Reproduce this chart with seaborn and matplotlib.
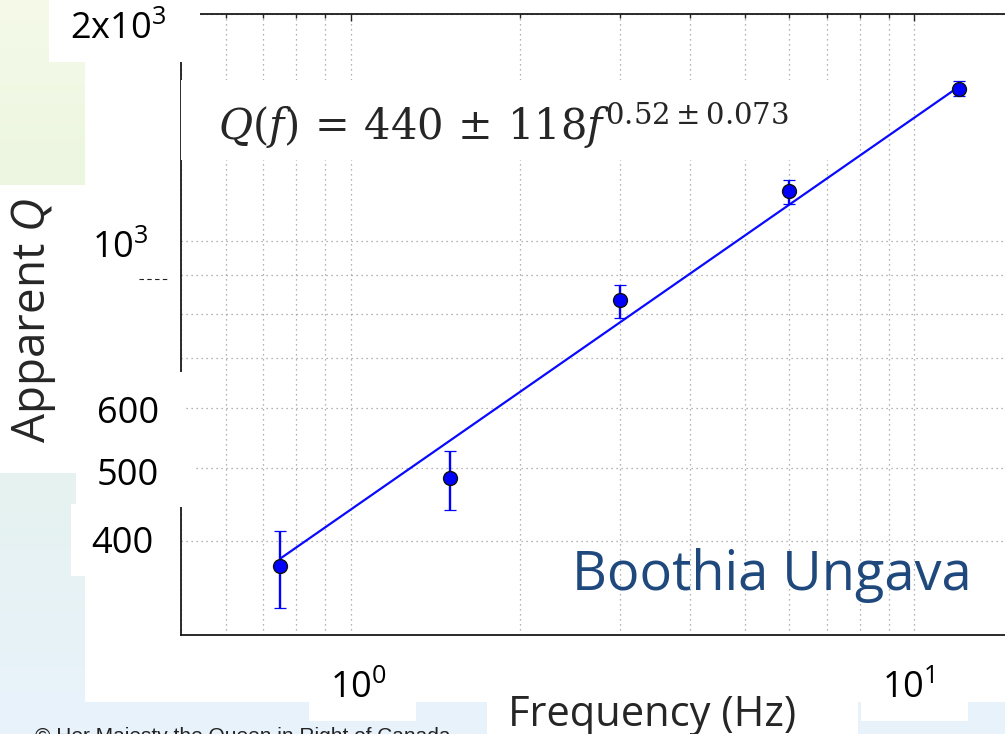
import numpy as np
import pandas as pd
import matplotlib
matplotlib.use("Agg")
import matplotlib.pyplot as plt
import matplotlib.ticker as mticker
from matplotlib.patches import Rectangle
from matplotlib.lines import Line2D
from matplotlib.colors import LinearSegmentedColormap
import seaborn as sns

# Apparent Q measured in five frequency bands
freq_hz = [0.75, 1.5, 3.0, 6.0, 12.0]
q_apparent = [370, 484, 835, 1163, 1590]
q_lower = [326, 440, 791, 1121, 1555]
q_upper = [412, 527, 875, 1206, 1632]

# Power-law fit Q(f) = Q0 * f^n
fit_q0 = 440
fit_q0_err = 118
fit_n = 0.52
fit_n_err = 0.073

# Texts
x_label = "Frequency (Hz)"
y_label = r"Apparent $\mathit{Q}$"
x_tick_text = [r"$10^{0}$", r"$10^{1}$"]
y_tick_text = ["400", "500", "600", r"$10^{3}$", r"$2\mathrm{x}10^{3}$"]
region_name = "Boothia Ungava"
credit_left = "© Her Majesty the Queen in Right of Canada"

sns.set_style("white")
plt.rcParams["font.family"] = ["Open Sans", "DejaVu Sans"]
plt.rcParams["mathtext.fontset"] = "custom"
plt.rcParams["mathtext.rm"] = "Open Sans"
plt.rcParams["mathtext.it"] = "Open Sans:italic"
plt.rcParams["mathtext.bf"] = "Open Sans:bold"

W, H = 1005, 734
fig = plt.figure(figsize=(W / 100, H / 100), dpi=100)


def fig_rect(x0, y0, x1, y1):
    """Pixel box (top-left origin) -> figure-fraction rectangle."""
    return (x0 / W, 1 - y1 / H), (x1 - x0) / W, (y1 - y0) / H


def white_box(x0, y0, x1, y1, z):
    xy, w, h = fig_rect(x0, y0, x1, y1)
    fig.add_artist(Rectangle(xy, w, h, transform=fig.transFigure,
                             facecolor="white", edgecolor="none", zorder=z))


def fx(x):
    return x / W


def fy(y):
    return 1 - y / H


# Slide backdrop: pale green fading into pale blue
bg = fig.add_axes([0, 0, 1, 1], zorder=-10)
bg.axis("off")
cmap = LinearSegmentedColormap.from_list(
    "slide", [(0.0, "#f5fae9"), (0.25, "#ecf6e0"), (0.64, "#e5f3ef"), (1.0, "#e9f2fc")])
bg.imshow(np.linspace(0, 1, 256).reshape(-1, 1), aspect="auto", cmap=cmap,
          extent=[0, 1, 1, 0])
bg.set_xlim(0, 1)
bg.set_ylim(1, 0)

# Footer credit (partly hidden by the label boxes)
fig.text(fx(35), fy(742), credit_left, fontsize=15, color="#222222",
         family=["Liberation Sans", "DejaVu Sans"], va="baseline", zorder=-9)

# White slide areas under the plot
for box in [(49, 0, W, 62), (85, 62, W, 702), (0, 185, 85, 473),
            (76, 473, 85, 504), (71, 504, 85, 576),
            (309, 702, 416, 721), (487, 702, 858, H), (861, 702, 968, 721)]:
    white_box(*box, z=-8)

# Main log-log axes
ax = fig.add_axes([181 / W, 1 - 635 / H, (1084 - 181) / W, (635 - 14) / H])
ax.set_facecolor("white")

df = pd.DataFrame({"f": freq_hz, "q": q_apparent})
q = np.array(q_apparent, dtype=float)
yerr = [q - np.array(q_lower), np.array(q_upper) - q]

fit_f = np.array([freq_hz[0], freq_hz[-1]])
fit_q = fit_q0 * fit_f ** fit_n
sns.lineplot(x=fit_f, y=fit_q, ax=ax, color="#0a0aff", linewidth=1.6, zorder=3)
ax.errorbar(freq_hz, q_apparent, yerr=yerr, fmt="none", ecolor="#0000ff",
            elinewidth=1.7, capsize=4.5, capthick=0.9, zorder=4)
sns.scatterplot(data=df, x="f", y="q", ax=ax, color="#0000ff", edgecolor="#111111",
                linewidth=1.0, s=100, zorder=5)

ax.set_xscale("log")
ax.set_yscale("log")
ax.set_xlim(0.5, 20)
ax.set_ylim(300, 2000)
ax.set_xlabel("")
ax.set_ylabel("")

for axis in (ax.xaxis, ax.yaxis):
    axis.set_major_locator(mticker.LogLocator(base=10, subs=(1.0,)))
    axis.set_minor_locator(mticker.LogLocator(base=10, subs=np.arange(2, 10)))
    axis.set_minor_formatter(mticker.NullFormatter())

ax.grid(True, which="both", axis="both", color="#9a9a9a",
        linestyle=(0, (1, 3)), linewidth=0.9)
ax.tick_params(which="both", direction="in", top=True, right=True,
               labelbottom=False, labelleft=False, color="#222222", width=1.0)
ax.tick_params(axis="x", which="major", length=5)
ax.tick_params(axis="x", which="minor", length=3)
ax.tick_params(axis="y", which="both", length=6)
for s in ax.spines.values():
    s.set_visible(True)
    s.set_color("#1a1a1a")
    s.set_linewidth(1.3)

# Label boxes laid over the axes frame
for box in [(49, 0, 200, 62), (75, 372, 183, 440), (77, 440, 195, 507),
            (181, 80, 850, 160)]:
    white_box(*box, z=5)

# Stray dash left of the frame
fig.add_artist(Line2D([fx(139), fx(170)], [fy(279), fy(279)], transform=fig.transFigure,
                      color="#222222", linewidth=0.8, linestyle=(0, (4, 3)), zorder=6))

# Tick labels
y_label_pos = [(91, 553), (97, 485), (97, 423), (92, 258), (70, 39)]
for (px, py), t in zip(y_label_pos, y_tick_text):
    fig.text(fx(px), fy(py), t, fontsize=26, color="black", ha="left",
             va="baseline", zorder=7)
x_label_pos = [(330, 698), (882, 698)]
for (px, py), t in zip(x_label_pos, x_tick_text):
    fig.text(fx(px), fy(py), t, fontsize=26, color="black", ha="left",
             va="baseline", zorder=7)

# Axis titles
fig.text(fx(652), fy(726), x_label, fontsize=30, ha="center", va="baseline", zorder=7)
fig.text(fx(34), fy(320), y_label, fontsize=33, rotation=90, ha="center",
         va="center", zorder=7)

# Fit equation
eq = (rf"$Q(f)\,=\,{fit_q0}\,\pm\,{fit_q0_err}f^{{{fit_n}\pm{fit_n_err}}}$")
fig.text(fx(218), fy(140), eq, fontsize=30, math_fontfamily="dejavuserif",
         ha="left", va="baseline", zorder=7)

# Region name
fig.text(fx(572), fy(590), region_name, fontsize=39, color="#1f497d",
         ha="left", va="baseline", zorder=7)

fig.savefig("out.png", dpi=100)
